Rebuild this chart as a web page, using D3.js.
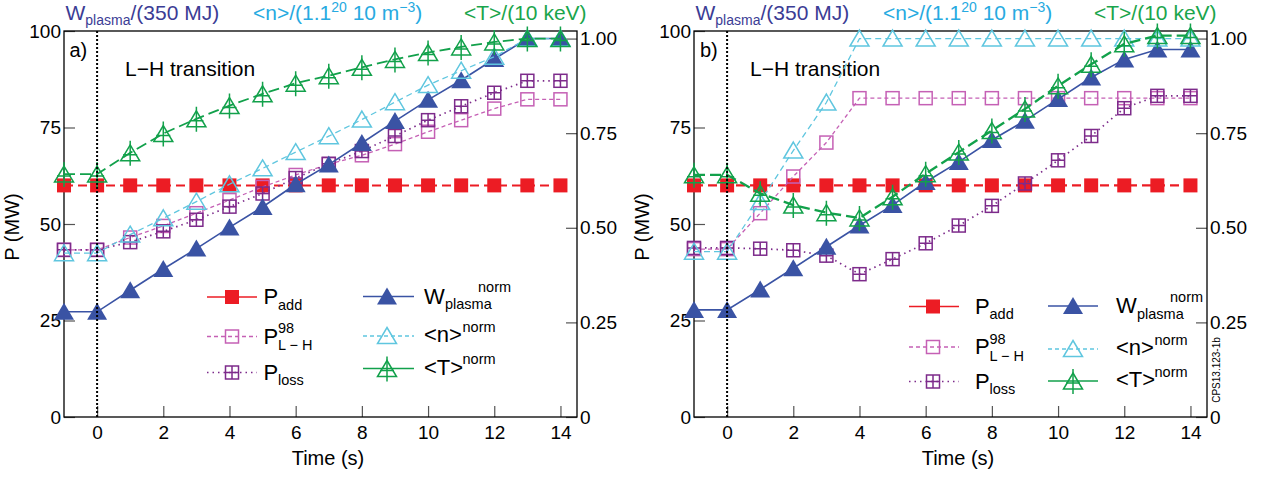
<!DOCTYPE html>
<html><head><meta charset="utf-8">
<script src="https://cdn.jsdelivr.net/npm/d3@7"></script>
<style>
html,body{margin:0;padding:0;background:#fff;}
svg{display:block;font-family:"Liberation Sans",Arial,Helvetica,sans-serif;}
text{white-space:pre;}
</style></head><body>
<svg id="chart" width="1273" height="477"></svg>
<script>
// ---- data ----
const time = [-1, 0, 1, 2, 3, 4, 5, 6, 7, 8, 9, 10, 11, 12, 13, 14];
const timeTicks = [0, 2, 4, 6, 8, 10, 12, 14];
const powerTicks = [0, 25, 50, 75, 100];
const normTicks = [0, 0.25, 0.5, 0.75, 1];

// a) powers in MW
const pAddA   = [60, 60, 60, 60, 60, 60, 60, 60, 60, 60, 60, 60, 60, 60, 60, 60];
const pLH98A  = [43.3, 43.3, 46.5, 49.5, 52.8, 56.2, 59.6, 62.7, 65.5, 67.8, 70.7, 73.9, 76.9, 79.9, 82.3, 82.3];
const pLossA  = [43.3, 43.3, 45.3, 48.1, 51.1, 54.5, 57.9, 61.9, 65.6, 68.9, 72.8, 76.9, 80.5, 84.0, 87.1, 87.1];
// a) normalised plasma quantities
const wPlasmaA = [0.278, 0.278, 0.335, 0.391, 0.445, 0.501, 0.555, 0.615, 0.667, 0.724, 0.782, 0.838, 0.890, 0.946, 1.0, 1.0];
const nNormA   = [0.433, 0.433, 0.482, 0.525, 0.569, 0.615, 0.657, 0.700, 0.742, 0.786, 0.832, 0.877, 0.915, 0.952, 1.0, 1.0];
const tNormA   = [0.642, 0.642, 0.698, 0.749, 0.788, 0.823, 0.854, 0.882, 0.902, 0.924, 0.945, 0.963, 0.978, 0.991, 1.0, 1.0];

// b) powers in MW
const pAddB   = [60, 60, 60, 60, 60, 60, 60, 60, 60, 60, 60, 60, 60, 60, 60, 60];
const pLH98B  = [43.5, 43.5, 52.8, 62.3, 71.1, 82.6, 82.6, 82.6, 82.6, 82.6, 82.6, 82.6, 82.6, 82.6, 82.6, 82.6];
const pLossB  = [43.8, 43.8, 43.6, 43.2, 41.8, 37.0, 40.9, 45.0, 49.6, 54.7, 60.5, 66.5, 72.8, 80.0, 83.2, 83.2];
// b) normalised plasma quantities
const wPlasmaB = [0.283, 0.283, 0.337, 0.393, 0.450, 0.506, 0.560, 0.621, 0.674, 0.732, 0.783, 0.840, 0.897, 0.945, 0.971, 0.971];
const nNormB   = [0.437, 0.437, 0.568, 0.704, 0.831, 1.0, 1.0, 1.0, 1.0, 1.0, 1.0, 1.0, 1.0, 1.0, 1.0, 1.0];
const tNormB   = [0.640, 0.640, 0.591, 0.560, 0.540, 0.526, 0.582, 0.643, 0.700, 0.757, 0.814, 0.875, 0.932, 0.986, 1.008, 1.008];

// ---- styling ----
const C = {
  add: "#ec1c24", lh: "#c560b5", loss: "#7d2b8b",
  w: "#3a53a4", n: "#5fc6df", t: "#12a14b",
  titleW: "#3b3c95", titleN: "#27aae1", titleT: "#1aa54b"
};
const TOP = 31, BOTTOM = 417;

const svg = d3.select("#chart");

function rich(g, x, y, parts, color) {
  const t = g.append("text").attr("x", x).attr("y", y).attr("fill", color);
  let cur = 0;
  parts.forEach(p => {
    const off = p.dy || 0;
    t.append("tspan").attr("font-size", p.size).attr("dy", off - cur).text(p.t);
    cur = off;
  });
  return t;
}

function drawMarker(g, type, color) {
  const sw = 1.5;
  if (type === "sqFill") {
    g.append("rect").attr("x", -7).attr("y", -7).attr("width", 14).attr("height", 14).attr("fill", color);
  } else if (type === "sqOpen" || type === "sqPlus") {
    g.append("rect").attr("x", -6.5).attr("y", -6.5).attr("width", 13).attr("height", 13)
      .attr("fill", "none").attr("stroke", color).attr("stroke-width", sw);
    if (type === "sqPlus") {
      g.append("path").attr("d", "M0,-6.5V6.5M-6.5,0H6.5").attr("stroke", color).attr("stroke-width", sw);
    }
  } else if (type === "triFill") {
    g.append("path").attr("d", "M0,-9L10,8L-10,8Z").attr("fill", color);
  } else if (type === "triOpen") {
    g.append("path").attr("d", "M0,-8.5L9.5,7.5L-9.5,7.5Z").attr("fill", "none")
      .attr("stroke", color).attr("stroke-width", sw);
  } else if (type === "triPlus") {
    g.append("path").attr("d", "M0,-8L9.5,8L-9.5,8Z").attr("fill", "none")
      .attr("stroke", color).attr("stroke-width", sw);
    g.append("path").attr("d", "M0,-12V13M-7,2H7").attr("stroke", color).attr("stroke-width", sw);
  }
}

function drawPanel(cfg) {
  const g = svg.append("g");
  const x = d3.scaleLinear().domain([-1, 14.5]).range([cfg.left, cfg.right]);
  const yL = d3.scaleLinear().domain([0, 100]).range([BOTTOM, TOP]);
  const yR = d3.scaleLinear().domain([0, 1.02]).range([BOTTOM, TOP]);

  // axes
  const styleAxis = sel => {
    sel.select(".domain").remove();
    sel.selectAll(".tick line").attr("stroke", "#555").attr("stroke-width", 1.2);
    sel.selectAll(".tick text").attr("font-size", 19).attr("fill", "#000")
      .attr("font-family", "Liberation Sans, Arial, sans-serif");
  };
  g.append("g").attr("transform", `translate(0,${BOTTOM})`)
    .call(d3.axisBottom(x).tickValues(timeTicks).tickSizeInner(-11).tickSizeOuter(0).tickPadding(9))
    .call(styleAxis);
  g.append("g").attr("transform", `translate(${cfg.left},0)`)
    .call(d3.axisLeft(yL).tickValues(powerTicks).tickSizeInner(-11).tickSizeOuter(0).tickPadding(3))
    .call(styleAxis);
  g.append("g").attr("transform", `translate(${cfg.right},0)`)
    .call(d3.axisRight(yR).tickValues(normTicks).tickSizeInner(-11).tickSizeOuter(0).tickPadding(3)
      .tickFormat(d => d === 0 ? "0" : d3.format(".2f")(d)))
    .call(styleAxis);

  // frame
  g.append("rect").attr("x", cfg.left).attr("y", TOP)
    .attr("width", cfg.right - cfg.left).attr("height", BOTTOM - TOP)
    .attr("fill", "none").attr("stroke", "#000").attr("stroke-width", 1.3);

  // axis titles
  g.append("text").attr("x", cfg.left + 264).attr("y", 465).attr("text-anchor", "middle")
    .attr("font-size", 20).text("Time (s)");
  g.append("text").attr("transform", `translate(${cfg.left - 45},${(TOP + BOTTOM) / 2 + 3}) rotate(-90)`)
    .attr("text-anchor", "middle").attr("font-size", 20).text("P (MW)");

  // top titles
  const L = cfg.left;
  rich(g, L + 1.5, 20, [{t: "W", size: 21}, {t: "plasma", size: 14, dy: 5}, {t: "/(350 MJ)", size: 21, dy: 0}], C.titleW);
  rich(g, L + 189, 20, [{t: "<n>/(1.1", size: 21}, {t: "20", size: 14, dy: -8}, {t: " 10 m", size: 21, dy: 0},
    {t: "\u22123", size: 14, dy: -8}, {t: ")", size: 21, dy: 0}], C.titleN);
  rich(g, L + 400, 20, [{t: "<T>/(10 keV)", size: 21}], C.titleT);

  // panel tag and annotation
  g.append("text").attr("x", L + cfg.tagDx).attr("y", 57).attr("font-size", 20).text(cfg.tag);
  g.append("text").attr("x", L + cfg.annDx).attr("y", 75.5).attr("font-size", 21).text("L\u2212H transition");

  // series
  const series = [
    {vals: cfg.pAdd, y: yL, color: C.add, dash: "9,5", lw: cfg.lwAdd, marker: "sqFill"},
    {vals: cfg.pLH, y: yL, color: C.lh, dash: "4,3", lw: 1.3, marker: "sqOpen"},
    {vals: cfg.pLoss, y: yL, color: C.loss, dash: "1.5,4", lw: 1.7, marker: "sqPlus"},
    {vals: cfg.w, y: yR, color: C.w, dash: null, lw: 1.6, marker: "triFill"},
    {vals: cfg.n, y: yR, color: C.n, dash: "6,4", lw: 1.3, marker: "triOpen"},
    {vals: cfg.t, y: yR, color: C.t, dash: "11,5", lw: cfg.lwT, marker: "triPlus"}
  ];
  const plot = g.append("g");
  series.forEach(s => {
    const line = d3.line().x((d, i) => x(time[i])).y(d => s.y(d));
    plot.append("path").datum(s.vals).attr("d", line).attr("fill", "none")
      .attr("stroke", s.color).attr("stroke-width", s.lw)
      .attr("stroke-dasharray", s.dash);
    plot.append("g").selectAll("g").data(s.vals).join("g")
      .attr("transform", (d, i) => `translate(${x(time[i])},${s.y(d)})`)
      .each(function () { drawMarker(d3.select(this), s.marker, s.color); });
  });

  // transition time marker
  g.append("line").attr("x1", x(0)).attr("x2", x(0)).attr("y1", BOTTOM).attr("y2", TOP)
    .attr("stroke", "#000").attr("stroke-width", 2).attr("stroke-dasharray", "2,2");

  // legend
  const lg = g.append("g");
  const lgEntries = [
    {col: 0, row: 0, color: C.add, dash: null, marker: "sqFill"},
    {col: 0, row: 1, color: C.lh, dash: "4,3", marker: "sqOpen"},
    {col: 0, row: 2, color: C.loss, dash: "1.5,4", marker: "sqPlus"},
    {col: 1, row: 0, color: C.w, dash: null, marker: "triFill"},
    {col: 1, row: 1, color: C.n, dash: "4,3", marker: "triOpen"},
    {col: 1, row: 2, color: C.t, dash: null, marker: "triPlus"}
  ];
  lgEntries.forEach(e => {
    const c = cfg.lgCols[e.col];
    const yy = cfg.lgRows[e.col][e.row];
    lg.append("line").attr("x1", c.x0).attr("x2", c.x1).attr("y1", yy).attr("y2", yy)
      .attr("stroke", e.color).attr("stroke-width", 1.5).attr("stroke-dasharray", e.dash);
    const m = lg.append("g").attr("transform", `translate(${c.xm},${yy})`);
    drawMarker(m, e.marker, e.color);
  });
  const c1 = cfg.lgCols[0], c2 = cfg.lgCols[1];
  const r1 = cfg.lgRows[0], r2 = cfg.lgRows[1];
  const big = 22, small = 14.5;
  const txt = (xx, yy, s, size) => lg.append("text").attr("x", xx).attr("y", yy).attr("font-size", size).text(s);
  txt(c1.xt, r1[0] + 7, "P", big); txt(c1.xt + 14.5, r1[0] + 12.5, "add", small);
  txt(c1.xt, r1[1] + 7, "P", big); txt(c1.xt + 14.5, r1[1] - 3.5, "98", small); txt(c1.xt + 14.5, r1[1] + 13.5, "L \u2212 H", small);
  txt(c1.xt, r1[2] + 7, "P", big); txt(c1.xt + 14.5, r1[2] + 12.5, "loss", small);
  txt(c2.xt, r2[0] + 7, "W", big); txt(c2.xt + 21, r2[0] + 12.5, "plasma", small); txt(c2.xt + 54, r2[0] - 4.5, "norm", small);
  txt(c2.xt, r2[1] + 6, "<n>", big); txt(c2.xt + 38.5, r2[1] - 4.5, "norm", small);
  txt(c2.xt, r2[2] + 6, "<T>", big); txt(c2.xt + 38.5, r2[2] - 4.5, "norm", small);
}

drawPanel({
  left: 64, right: 577, tag: "a)", tagDx: 5.5, annDx: 61,
  pAdd: pAddA, pLH: pLH98A, pLoss: pLossA, w: wPlasmaA, n: nNormA, t: tNormA,
  lwAdd: 2, lwT: 1.8,
  lgCols: [{x0: 207, x1: 257, xm: 232, xt: 263.5}, {x0: 363, x1: 414, xm: 387, xt: 424}],
  lgRows: [[297, 336.5, 372.5], [296.5, 336, 368.5]]
});
drawPanel({
  left: 694, right: 1207, tag: "b)", tagDx: 6, annDx: 56,
  pAdd: pAddB, pLH: pLH98B, pLoss: pLossB, w: wPlasmaB, n: nNormB, t: tNormB,
  lwAdd: 2.4, lwT: 2.3,
  lgCols: [{x0: 909, x1: 959, xm: 933, xt: 975}, {x0: 1048, x1: 1098, xm: 1073, xt: 1116}],
  lgRows: [[306.5, 347, 381.5], [306, 349, 381]]
});

// figure reference code
svg.append("text").attr("transform", "translate(1219.5,370) rotate(-90)")
  .attr("text-anchor", "middle").attr("font-size", 10).text("CPS13.123-1b");
</script>
</body></html>
